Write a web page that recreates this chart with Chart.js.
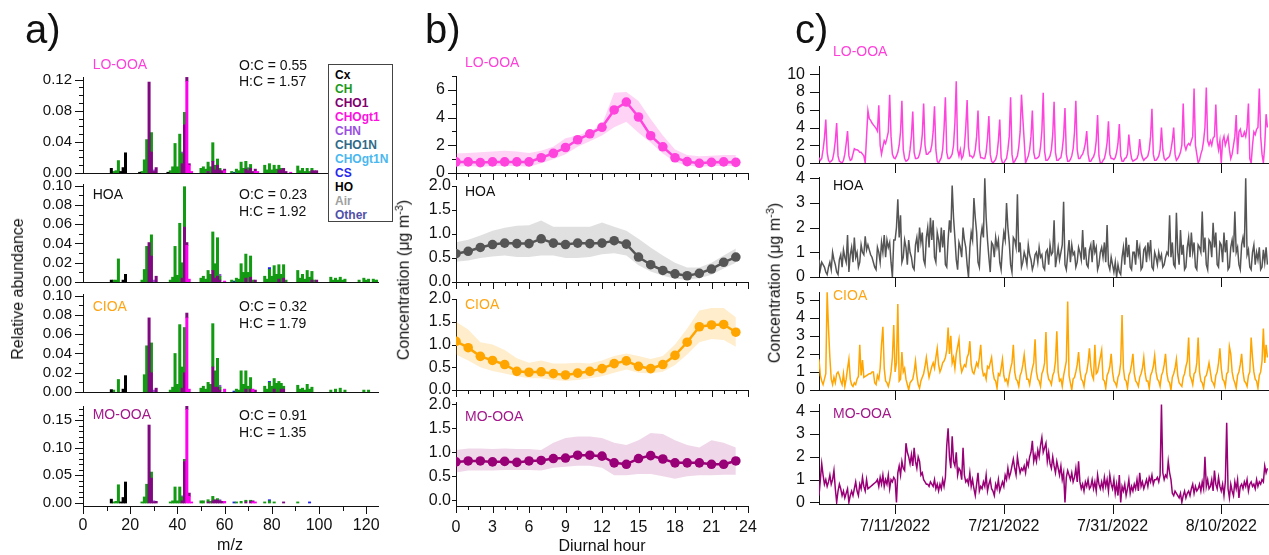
<!DOCTYPE html>
<html><head><meta charset="utf-8"><title>PMF factors</title>
<script src="https://cdn.jsdelivr.net/npm/chart.js@4.4.1/dist/chart.umd.min.js"></script>
<style>
html,body{margin:0;padding:0;background:#fff;}
#wrap{position:relative;width:1269px;height:555px;overflow:hidden;font-family:"Liberation Sans",Arial,Helvetica,sans-serif;color:#111;}
#wrap canvas{position:absolute;}
.t{position:absolute;white-space:nowrap;line-height:1;z-index:5;}
.rot{position:absolute;white-space:nowrap;line-height:1;transform:translate(-50%,-50%) rotate(-90deg);z-index:6;font-size:16px;}
.rot sup{font-size:11px;}
#legend{position:absolute;left:328px;top:64px;width:63px;height:156px;border:1px solid #444;background:#fff;z-index:4;}
#legend div{position:absolute;left:6px;font-weight:bold;font-size:12px;line-height:1;white-space:nowrap;}
</style></head>
<body><div id="wrap"><div id="legend"></div></div>
<script>
// ================= DATA =================
const profiles   = ['LO-OOA','HOA','CIOA','MO-OOA'];
const labelColors = ['#FF3FDA','#111111','#FFA514','#A3178B'];
const lineColors = ['#FF44DD','#555555','#FFA500','#990077'];
const bandColors = ['rgba(255,80,220,0.25)','rgba(0,0,0,0.12)','rgba(255,165,0,0.20)','rgba(153,0,119,0.16)'];
const ocValues = ['0.55','0.23','0.32','0.91'];
const hcValues = ['1.57','1.92','1.79','1.35'];

// legend of ion families
const familyNames  = ['Cx','CH','CHO1','CHOgt1','CHN','CHO1N','CHOgt1N','CS','HO','Air','Other'];
const familyColors = ['#000000','#1A9A1A','#800070','#FF10E0','#9A50E0','#2F6A88','#4AB8F0','#2828F0','#000000','#A0A0A0','#5050A8'];
// stacking order of bars (bottom -> top)
const barFamilies = ['Cx','HO','CHOgt1','CHO1','CH','CHN','CS'];
const barColors   = {Cx:'#000000',HO:'#000000',CHOgt1:'#FF00EE',CHO1:'#7F0A7F',CH:'#139A13',CHN:'#9955DD',CS:'#2222EE'};

// mass spectra [m/z, fraction]
const lo_Cx = [[12,.006],[24,.001],[36,.001]];
const lo_HO = [[16,.002],[17,.007],[18,.026]];
const lo_CHOgt1 = [[44,.118],[45,.010],[46,.002],[60,.003],[73,.002],[74,.002],[88,.001]];
const lo_CHO1 = [[28,.117],[29,.027],[30,.002],[31,.007],[42,.012],[43,.062],[44,.005],[45,.002],[53,.002],[55,.015],[56,.004],[57,.010],[58,.004],[59,.003],[60,.002],[69,.005],[70,.003],[71,.006],[72,.002],[73,.003],[83,.004],[84,.004],[85,.006],[86,.002],[97,.003],[98,.003],[99,.003],[111,.002],[112,.002],[113,.002]];
const lo_CH = [[13,.002],[14,.003],[15,.016],[25,.002],[26,.017],[27,.043],[29,.025],[37,.003],[38,.008],[39,.038],[40,.008],[41,.050],[42,.013],[43,.016],[50,.006],[51,.008],[52,.005],[53,.012],[54,.008],[55,.024],[56,.006],[57,.008],[58,.002],[63,.002],[65,.005],[66,.003],[67,.014],[68,.006],[69,.010],[70,.003],[71,.005],[77,.010],[78,.004],[79,.012],[80,.004],[81,.010],[82,.005],[83,.006],[84,.002],[91,.009],[92,.003],[93,.006],[94,.002],[95,.006],[96,.002],[97,.003],[105,.004],[107,.003],[109,.003],[119,.002],[121,.002]];
const lo_CHN = [[30,.002],[42,.002],[70,.001]];
const lo_CS = [[64,.001]];

const hoa_Cx = [[12,.002]];
const hoa_HO = [[17,.002],[18,.008]];
const hoa_CHOgt1 = [[44,.038],[45,.003],[60,.001]];
const hoa_CHO1 = [[28,.041],[29,.027],[31,.006],[42,.004],[43,.057],[44,.003],[55,.012],[56,.004],[57,.006],[58,.002],[69,.004],[71,.005],[73,.002],[83,.003],[85,.004],[97,.002],[99,.002]];
const hoa_CH = [[13,.002],[14,.002],[15,.024],[25,.002],[26,.013],[27,.037],[29,.022],[37,.002],[38,.005],[39,.037],[40,.007],[41,.061],[42,.016],[43,.042],[50,.004],[51,.006],[52,.003],[53,.012],[54,.008],[55,.040],[56,.015],[57,.040],[58,.004],[63,.002],[65,.004],[66,.003],[67,.019],[68,.010],[69,.025],[70,.010],[71,.022],[72,.002],[77,.006],[78,.003],[79,.013],[80,.006],[81,.017],[82,.008],[83,.015],[84,.008],[85,.014],[86,.002],[91,.012],[92,.004],[93,.008],[94,.003],[95,.012],[96,.005],[97,.009],[98,.002],[105,.005],[106,.002],[107,.004],[108,.002],[109,.005],[110,.002],[111,.003],[117,.002],[119,.004],[120,.002],[121,.003],[123,.003],[124,.002],[125,.002]];
const hoa_CHN = [[30,.002],[58,.002]];
const hoa_CS = [[64,.001],[79,.002]];

const cioa_Cx = [[12,.0025]];
const cioa_HO = [[17,.003],[18,.017]];
const cioa_CHOgt1 = [[44,.077],[45,.003],[60,.003],[72,.003]];
const cioa_CHO1 = [[28,.077],[29,.020],[31,.004],[42,.004],[43,.020],[44,.005],[55,.026],[56,.005],[57,.005],[58,.002],[69,.003],[71,.003],[73,.002],[81,.003],[84,.003],[85,.003]];
const cioa_CH = [[13,.002],[15,.013],[26,.018],[27,.048],[29,.031],[37,.002],[38,.005],[39,.040],[40,.008],[41,.070],[42,.022],[43,.047],[50,.004],[51,.006],[52,.003],[53,.010],[54,.008],[55,.045],[56,.017],[57,.030],[58,.003],[65,.003],[66,.002],[67,.022],[68,.008],[69,.019],[70,.006],[71,.012],[77,.006],[78,.003],[79,.010],[80,.006],[81,.011],[82,.009],[83,.011],[84,.006],[85,.003],[91,.007],[92,.003],[93,.004],[94,.002],[95,.008],[96,.003],[97,.005],[105,.002],[107,.003],[109,.004],[111,.002],[119,.002],[121,.002]];
const cioa_CHN = [[30,.002],[58,.002]];
const cioa_CS = [[64,.001],[79,.001]];

const mo_Cx = [[12,.007]];
const mo_HO = [[16,.002],[17,.010],[18,.038]];
const mo_CHOgt1 = [[44,.169],[45,.012],[46,.002],[60,.003],[72,.002],[73,.002]];
const mo_CHO1 = [[28,.141],[29,.045],[30,.002],[31,.003],[42,.004],[43,.075],[44,.006],[45,.006],[53,.002],[55,.004],[56,.006],[57,.005],[58,.004],[59,.003],[69,.002],[71,.003],[72,.002],[85,.002]];
const mo_CH = [[13,.002],[14,.003],[15,.033],[25,.002],[26,.011],[27,.034],[29,.011],[37,.002],[38,.004],[39,.029],[40,.004],[41,.029],[42,.007],[43,.004],[50,.004],[51,.004],[53,.004],[54,.003],[55,.008],[57,.003],[65,.002],[67,.003],[69,.003],[71,.002],[77,.002],[79,.004],[81,.002],[91,.002]];
const mo_CHN = [[30,.002],[42,.002],[58,.002]];
const mo_CS = [[64,.002],[79,.002],[96,.002]];

const spectra = [
  {Cx:lo_Cx,HO:lo_HO,CHOgt1:lo_CHOgt1,CHO1:lo_CHO1,CH:lo_CH,CHN:lo_CHN,CS:lo_CS},
  {Cx:hoa_Cx,HO:hoa_HO,CHOgt1:hoa_CHOgt1,CHO1:hoa_CHO1,CH:hoa_CH,CHN:hoa_CHN,CS:hoa_CS},
  {Cx:cioa_Cx,HO:cioa_HO,CHOgt1:cioa_CHOgt1,CHO1:cioa_CHO1,CH:cioa_CH,CHN:cioa_CHN,CS:cioa_CS},
  {Cx:mo_Cx,HO:mo_HO,CHOgt1:mo_CHOgt1,CHO1:mo_CHO1,CH:mo_CH,CHN:mo_CHN,CS:mo_CS}
];
const mzTickLabels = [0,20,40,60,80,100,120];
const specYTicks = [[0,0.04,0.08,0.12],[0,0.02,0.04,0.06,0.08,0.10],[0,0.02,0.04,0.06,0.08,0.10],[0,0.05,0.10,0.15]];

// diurnal cycles (hour 0..23): mean, upper and lower band
const hours = [0,1,2,3,4,5,6,7,8,9,10,11,12,13,14,15,16,17,18,19,20,21,22,23];
const loMean = [0.80,0.80,0.75,0.80,0.80,0.80,0.80,1.10,1.42,1.84,2.40,2.83,3.30,4.55,5.12,4.04,2.69,1.89,1.10,0.82,0.70,0.77,0.80,0.77];
const loUp   = [1.40,1.45,1.50,1.55,1.60,1.55,1.45,1.60,1.90,2.50,2.70,3.00,3.50,5.80,5.85,5.20,3.90,2.70,1.70,1.30,1.20,1.25,1.30,1.30];
const loLow  = [0.45,0.50,0.45,0.50,0.50,0.50,0.45,0.70,1.00,1.35,1.90,2.30,2.70,3.30,3.70,2.90,2.20,1.40,0.80,0.55,0.45,0.50,0.50,0.50];
const hoaMean = [0.59,0.64,0.72,0.78,0.81,0.80,0.80,0.90,0.81,0.78,0.81,0.80,0.81,0.86,0.79,0.52,0.36,0.24,0.17,0.13,0.18,0.27,0.41,0.52];
const hoaUp   = [0.83,0.88,0.97,1.07,1.13,1.17,1.18,1.28,1.15,1.15,1.15,1.15,1.24,1.15,1.07,0.90,0.72,0.55,0.40,0.30,0.30,0.40,0.55,0.70];
const hoaLow  = [0.42,0.45,0.50,0.53,0.55,0.52,0.52,0.55,0.55,0.50,0.50,0.52,0.58,0.60,0.55,0.35,0.22,0.13,0.07,0.05,0.08,0.15,0.28,0.40];
const cioaMean = [1.07,0.93,0.74,0.65,0.56,0.41,0.39,0.40,0.36,0.33,0.37,0.41,0.47,0.58,0.64,0.52,0.47,0.56,0.76,1.05,1.39,1.43,1.44,1.27];
const cioaUp   = [1.50,1.33,1.05,1.00,0.88,0.70,0.60,0.65,0.58,0.58,0.60,0.58,0.65,0.75,0.80,0.75,0.68,0.75,1.00,1.35,1.75,1.80,1.80,1.60];
const cioaLow  = [0.78,0.65,0.50,0.42,0.36,0.30,0.26,0.26,0.22,0.20,0.22,0.26,0.30,0.38,0.45,0.38,0.36,0.40,0.55,0.78,1.05,1.12,1.10,0.95];
const moMean = [0.80,0.82,0.82,0.80,0.81,0.79,0.82,0.83,0.87,0.88,0.94,0.94,0.92,0.78,0.75,0.87,0.93,0.86,0.78,0.78,0.78,0.75,0.75,0.82];
const moUp   = [1.05,1.08,1.08,1.07,1.08,1.07,1.07,1.05,1.20,1.30,1.33,1.33,1.30,1.20,1.15,1.25,1.40,1.38,1.25,1.15,1.10,1.25,1.20,1.10];
const moLow  = [0.58,0.62,0.62,0.62,0.63,0.63,0.63,0.62,0.68,0.70,0.72,0.72,0.68,0.52,0.52,0.55,0.55,0.50,0.45,0.50,0.52,0.52,0.53,0.53];
const diurnal = [[loMean,loUp,loLow],[hoaMean,hoaUp,hoaLow],[cioaMean,cioaUp,cioaLow],[moMean,moUp,moLow]];
const hourTickLabels = [0,3,6,9,12,15,18,21,24];
const diurnalYTicks = [[0,2,4,6],[0,0.5,1.0,1.5,2.0],[0,0.5,1.0,1.5,2.0],[0,0.5,1.0,1.5,2.0]];

// time series, 3-hourly samples starting 4 July 2022 00:00 (day 3 = days since 1 July)
const tsStartDay = 3;
const tsStepDay = 0.125;
const loTS = [
0.6,0.3,0.5,1.5,2.8,4.9,1.2,0.3, 0.1,0.2,0.4,1.2,2.5,4.5,0.8,0.2, 0.1,0.0,0.3,1.0,2.2,3.6,0.8,0.3, 0.4,1.0,1.6,1.5,1.5,1.4,1.2,1.2,
1.0,0.8,0.0,3.0,5.9,5.0,4.8,4.5, 4.3,4.1,3.9,3.6,6.5,2.0,1.0,1.8, 2.5,2.2,2.8,3.5,7.7,3.0,1.0,0.6, 0.5,0.8,1.2,2.0,3.5,7.0,1.5,0.5,
0.2,0.3,0.5,1.5,3.0,5.8,1.2,0.5, 0.5,0.6,1.0,1.8,3.2,6.7,2.0,1.0, 1.0,1.2,1.3,2.0,3.5,6.4,1.5,0.2, 0.0,0.3,0.6,1.5,3.8,7.4,1.2,0.5,
0.5,0.7,1.0,2.0,4.5,9.2,1.5,0.8, 1.5,0.5,0.8,1.8,4.0,7.1,1.8,0.8, 0.8,0.6,0.8,1.5,3.0,5.9,1.5,0.6, 0.6,0.5,0.5,1.2,2.8,5.3,1.0,0.2,
0.0,0.2,0.4,1.0,2.5,4.9,0.6,0.0, 0.0,0.3,0.5,1.5,3.0,7.4,1.0,0.0, 0.2,0.5,0.8,1.8,3.5,7.7,5.0,2.5, 0.0,0.4,0.8,1.5,3.0,5.9,1.2,0.5,
0.5,0.6,0.8,1.8,3.6,7.9,1.3,0.3, 0.3,0.5,0.8,1.5,3.2,6.9,1.2,0.3, 0.3,0.5,0.6,1.5,3.0,6.2,1.0,0.2, 0.2,0.4,0.8,1.6,3.4,7.0,1.5,0.5,
0.5,0.8,1.0,1.5,2.2,3.6,1.0,0.2, 0.2,0.5,0.7,1.2,2.5,5.4,0.8,0.0, 0.0,0.3,0.5,1.2,2.3,4.7,1.0,0.5, 0.5,0.4,0.6,1.2,2.2,4.4,0.8,0.2,
0.2,0.5,0.6,1.0,3.2,1.5,0.5,0.2, 0.3,0.4,0.5,1.0,2.7,1.2,0.6,0.3, 0.5,0.6,0.8,1.5,3.0,6.1,1.0,0.3, 0.3,0.5,0.8,1.5,4.0,1.5,0.5,0.3,
0.5,0.6,0.8,1.5,2.5,4.0,1.0,0.3, 0.5,0.8,1.2,2.0,6.7,2.0,1.5,2.0, 2.2,2.0,2.5,3.0,8.4,2.0,1.0,0.0, 0.3,1.0,1.5,2.5,4.0,8.5,2.5,2.0,
2.5,2.0,2.8,3.0,6.6,2.5,1.5,2.5, 0.0,2.5,3.0,2.0,2.5,3.0,1.5,0.5, 1.0,2.0,3.0,5.4,1.0,3.5,3.8,3.0, 3.0,3.5,3.0,4.0,6.7,0.5,0.0,2.0,
3.5,3.2,3.8,4.0,8.4,3.0,1.0,0.0, 2.0,5.5,4.0];
const hoaTS = [
0.7,0.3,0.6,0.5,0.4,0.2,0.1,0.4, 0.6,0.3,1.0,0.7,0.5,0.2,0.1,0.7, 0.9,0.4,1.1,0.8,0.6,1.7,0.2,0.9, 1.2,0.6,1.6,0.8,1.0,0.4,0.6,1.3,
1.0,0.9,1.65,1.1,1.3,1.1,0.9,0.8, 0.6,0.4,0.3,1.2,1.0,0.6,1.4,1.0, 1.7,0.8,1.5,1.2,1.4,0.6,0.0,1.5, 1.5,2.0,3.15,1.6,2.5,0.6,0.8,1.5,
1.2,0.5,1.5,1.0,0.8,0.4,0.3,1.3, 1.6,1.0,2.0,1.4,1.8,0.7,0.5,1.6, 2.0,1.2,2.4,1.5,2.3,0.8,0.6,1.8, 1.5,1.0,2.0,1.2,1.9,0.5,0.4,1.5,
2.3,1.8,3.7,2.4,1.6,0.7,0.3,1.4, 1.2,0.8,2.0,1.5,1.2,0.5,0.0,1.2, 1.8,1.5,3.2,2.4,1.8,0.6,0.4,1.6, 2.0,1.6,4.0,2.4,1.5,0.8,0.2,1.4,
1.3,0.8,1.6,1.2,1.5,0.6,0.3,1.2, 1.8,1.5,3.0,2.0,1.4,0.5,0.2,1.6, 1.5,1.2,3.35,1.0,1.4,0.4,0.6,1.0, 0.8,0.5,1.3,0.9,0.7,0.3,0.5,0.9,
1.0,0.6,1.2,0.8,0.9,0.4,0.3,1.0, 1.1,0.5,1.3,0.9,1.0,2.3,0.4,0.8, 1.2,0.7,1.0,1.3,3.05,0.5,0.3,0.9, 1.5,0.6,1.3,0.9,1.0,0.4,0.6,1.2,
1.0,0.7,1.9,0.7,1.2,0.5,0.4,1.1, 1.3,0.6,1.5,1.0,1.2,0.3,0.5,1.0, 1.2,0.8,1.4,0.6,2.1,0.5,0.3,0.8, 0.5,0.2,0.6,0.0,0.5,0.2,0.1,0.8,
1.2,0.5,1.6,0.8,1.3,0.4,0.3,1.0, 1.0,0.5,1.5,0.9,1.2,0.3,0.4,1.1, 1.2,0.6,1.4,0.9,1.5,0.4,0.3,1.0, 0.8,0.5,1.0,0.7,0.9,0.4,0.5,0.8,
1.0,0.9,2.5,0.8,1.4,0.5,0.4,2.6, 1.0,0.5,1.9,0.9,1.3,0.3,0.4,1.2, 1.6,0.8,1.8,1.0,1.4,0.4,0.3,1.3, 1.2,1.0,2.65,1.0,1.6,0.5,0.3,1.5,
1.4,0.8,2.2,1.2,1.8,0.5,0.4,1.4, 1.3,0.6,1.8,1.0,1.5,0.3,0.4,1.2, 1.5,1.0,2.65,1.0,1.2,0.5,0.3,1.3, 1.6,1.2,4.0,0.9,1.1,0.4,0.3,1.0,
1.3,0.5,1.0,0.7,1.2,0.3,0.4,1.1, 0.6,1.2,0.5];
const cioaTS = [
1.7,0.8,0.5,0.3,0.6,0.9,5.4,3.4, 1.8,0.6,0.3,0.7,0.4,0.9,1.0,0.8, 0.5,0.3,0.9,0.2,0.6,1.2,1.7,0.6, 0.3,0.2,0.4,0.3,0.6,0.75,2.5,0.8,
1.65,0.7,0.75,0.8,0.85,0.9,0.9,1.0, 1.0,0.4,0.3,0.8,0.6,1.2,2.5,3.5, 1.2,0.5,0.4,0.2,0.5,1.0,1.8,3.6, 1.0,1.5,4.75,0.5,0.6,2.1,1.0,1.2,
0.6,0.3,0.0,0.4,0.5,0.6,1.0,1.6, 0.8,0.3,0.1,0.5,0.7,0.9,1.3,1.8, 1.2,0.7,1.0,1.3,1.5,1.2,1.8,2.3, 1.4,1.0,1.2,1.5,1.6,1.8,2.2,3.45,
2.0,3.0,1.5,1.8,1.2,2.0,2.4,2.8, 1.5,1.0,1.2,1.4,1.3,1.8,2.0,2.7, 1.4,1.0,0.9,1.2,1.5,1.3,1.8,2.5, 1.2,0.8,0.9,0.6,1.3,1.2,1.5,1.8,
1.0,0.6,0.5,0.1,0.9,0.8,1.2,1.7, 0.8,0.5,0.6,0.3,0.8,1.2,1.5,2.5, 1.0,0.6,0.5,0.2,0.8,1.0,1.4,1.95, 1.2,0.6,0.6,0.3,0.8,1.2,1.5,2.8,
1.0,0.6,0.5,0.2,0.9,1.1,1.5,3.2, 1.0,0.6,0.5,0.3,0.8,1.0,1.6,3.25, 1.0,0.5,0.6,0.2,0.8,1.2,1.6,4.9, 0.8,0.4,0.0,0.6,0.7,1.0,1.4,2.1,
1.1,0.6,0.5,0.2,0.8,1.0,1.5,2.3, 1.3,0.8,0.6,2.5,0.9,1.0,1.4,1.8, 2.2,0.6,0.5,0.1,0.8,1.0,1.3,2.0, 1.0,0.5,0.4,0.2,0.7,0.9,1.5,4.15,
1.2,0.6,0.5,0.1,0.8,1.0,1.4,2.0, 0.9,0.5,0.4,0.2,0.7,0.9,1.2,1.8, 0.9,0.5,0.5,0.1,0.8,1.0,1.3,1.9, 1.0,0.6,0.5,0.2,0.8,1.0,1.4,2.0,
0.9,0.5,0.4,0.0,0.7,0.9,1.2,1.7, 0.8,0.4,0.3,0.2,0.7,0.9,1.3,1.6, 2.9,0.8,0.6,0.3,0.9,1.0,1.5,2.9, 1.0,0.5,0.4,0.1,0.7,0.8,1.1,1.5,
1.0,0.5,0.4,0.2,0.8,1.0,1.5,2.3, 1.2,0.6,0.5,0.2,0.9,1.0,2.4,2.0, 1.0,0.6,0.4,0.1,0.8,1.0,1.4,2.0, 1.0,0.5,0.4,0.2,0.8,1.0,2.9,1.8,
1.0,0.6,0.5,0.1,0.8,1.0,1.6,3.4, 1.5,2.5,1.8];
const moTS = [
0.3,1.0,1.7,1.2,0.8,1.0,0.7,0.9, 1.2,0.8,1.0,1.4,0.6,0.0,0.5,0.8, 0.6,0.3,0.5,0.2,0.4,0.6,0.0,0.3, 0.5,0.3,0.6,0.9,0.5,0.3,0.8,0.6,
1.1,0.7,0.5,1.0,0.6,0.65,0.7,0.75, 0.8,0.85,0.9,1.0,0.7,1.1,0.8,1.2, 0.7,1.0,0.8,1.2,0.6,1.0,0.9,1.1, 1.0,0.0,1.3,1.6,1.2,1.8,1.5,1.4,
2.6,2.2,2.0,1.7,2.1,1.6,2.4,1.8, 1.5,2.0,1.8,1.2,1.3,1.0,0.9,0.8, 0.8,0.7,0.9,0.8,0.7,1.0,0.6,0.8, 0.5,0.8,0.6,1.0,0.7,1.1,2.5,3.25,
2.0,1.5,2.9,1.8,1.6,2.2,1.2,1.5, 1.4,1.0,2.4,1.2,0.9,1.0,0.8,1.3, 0.7,1.0,0.6,0.3,0.8,1.3,0.5,0.7, 0.6,0.9,0.7,1.2,0.5,0.8,1.0,0.6,
0.5,0.3,0.8,0.6,1.0,0.5,0.7,0.9, 0.7,1.2,1.0,1.5,1.1,1.3,1.6,1.9, 1.5,1.2,2.0,1.6,1.3,1.5,1.4,1.6, 1.3,1.8,1.6,2.0,2.2,2.7,1.8,2.1,
1.8,2.3,2.0,2.5,2.85,2.2,2.4,2.6, 1.8,2.2,1.7,1.5,2.0,1.6,1.3,1.8, 1.5,1.2,1.6,1.0,1.3,0.0,1.1,1.4, 1.2,1.0,1.3,0.9,1.1,1.5,0.9,1.8,
0.9,0.6,0.8,0.5,0.9,0.7,1.0,0.6, 0.7,1.0,0.6,0.9,0.5,1.2,0.8,0.6, 0.9,0.6,1.1,0.7,1.0,0.5,1.2,0.8, 0.6,1.0,0.4,0.8,0.3,1.2,0.0,0.7,
0.5,0.8,0.3,0.6,1.0,0.4,0.7,0.5, 0.8,0.6,1.0,0.5,1.3,0.7,0.9,0.6, 0.8,1.0,0.7,1.1,0.9,1.2,0.8,1.0, 1.0,1.1,0.9,1.2,4.3,1.3,1.0,1.2,
1.1,1.8,1.3,1.0,0.4,0.3,0.5,0.4, 0.3,0.2,0.4,0.0,0.3,0.5,0.2,0.4, 0.5,0.3,0.6,0.8,0.4,0.7,0.5,0.6, 0.8,0.5,0.9,0.6,2.0,0.7,1.0,0.6,
0.7,1.0,0.5,1.4,0.8,0.6,1.1,0.7, 0.5,0.8,0.3,0.9,3.5,0.6,0.2,0.8, 0.5,0.3,0.9,0.6,1.0,0.2,0.7,0.8, 0.6,0.9,0.7,1.0,0.5,0.8,0.9,0.7,
0.8,0.6,1.0,0.7,0.9,0.8,1.0,0.9, 1.6,1.3,1.5];
const timeSeries = [loTS,hoaTS,cioaTS,moTS];
const dateTickDays = [10,20,30,40];
const dateTickLabels = ['7/11/2022','7/21/2022','7/31/2022','8/10/2022'];
const tsYTicks = [[0,2,4,6,8,10],[0,1,2,3,4],[0,1,2,3,4,5],[0,1,2,3,4]];

// ================= LAYOUT =================
const wrap = document.getElementById('wrap');
Chart.defaults.font.family = '"Liberation Sans", Arial, Helvetica, sans-serif';
Chart.defaults.color = '#111';

const tickMarks = {
  id: 'tickMarks',
  afterDraw(chart, args, o) {
    const ctx = chart.ctx, ca = chart.chartArea, xs = chart.scales.x, ys = chart.scales.y;
    ctx.save(); ctx.strokeStyle = '#111'; ctx.lineWidth = 1; ctx.beginPath();
    for (const t of (o.y || [])) { const y = Math.round(ys.getPixelForValue(t[0])) + 0.5; ctx.moveTo(ca.left - t[1], y); ctx.lineTo(ca.left, y); }
    for (const t of (o.x || [])) { const x = Math.round(xs.getPixelForValue(t[0])) + 0.5; ctx.moveTo(x, ca.bottom); ctx.lineTo(x, ca.bottom + t[1]); }
    ctx.stroke(); ctx.restore();
  }
};

function axis(min, max, vals, fmt, show, size, pad) {
  return { type:'linear', min, max, offset:false,
    grid:{display:false, drawTicks:false}, border:{display:true, color:'#111', width:1},
    afterBuildTicks: s => { s.ticks = vals.map(v => ({value:v})); },
    ticks:{display:show, callback: v => fmt(v), font:{size}, color:'#111', padding:pad, autoSkip:false, maxRotation:0, minRotation:0} };
}

const PAD_T = 34, PAD_R = 44, XH_MIN = 34;
function mkChart(box, yW, xH, cfg, marks) {
  xH = Math.max(xH, XH_MIN);
  const L = Math.round(box.l), T = Math.round(box.t), R = Math.round(box.r), B = Math.round(box.b);
  const W = yW + (R - L) + PAD_R, H = PAD_T + (B - T) + xH;
  const c = document.createElement('canvas');
  c.width = W; c.height = H; c.style.width = W + 'px'; c.style.height = H + 'px';
  c.style.left = (L - yW) + 'px'; c.style.top = (T - PAD_T) + 'px';
  wrap.appendChild(c);
  const o = cfg.options;
  o.responsive = false; o.maintainAspectRatio = false; o.animation = false; o.devicePixelRatio = 1;
  o.layout = {padding:{left:0, right:PAD_R, top:PAD_T, bottom:0}};
  o.plugins = {legend:{display:false}, tooltip:{enabled:false}, tickMarks: marks};
  o.events = [];
  o.scales.y.afterFit = s => { s.width = yW; };
  o.scales.x.afterFit = s => { s.height = xH; };
  cfg.plugins = [tickMarks];
  const ch = new Chart(c, cfg);
  for (let it = 0; it < 3; it++) {
    const ca = ch.chartArea;
    const dw = (R - L) - (ca.right - ca.left), dh = (B - T) - (ca.bottom - ca.top);
    if (Math.abs(dw) < 0.5 && Math.abs(dh) < 0.5) break;
    c.width = ch.width + dw; c.height = ch.height + dh;
    ch.resize(ch.width + dw, ch.height + dh);
  }
  const ca = ch.chartArea;
  c.style.left = (L - ca.left) + 'px';
  c.style.top = (T - ca.top) + 'px';
  return ch;
}

function addText(html, x, cy, size, color, extra) {
  const d = document.createElement('div');
  d.className = 't'; d.innerHTML = html;
  d.style.left = x + 'px'; d.style.top = (cy - size * 0.5) + 'px';
  d.style.fontSize = size + 'px'; d.style.color = color || '#111';
  if (extra) Object.assign(d.style, extra);
  wrap.appendChild(d); return d;
}
function addRot(html, cx, cy) {
  const d = document.createElement('div'); d.className = 'rot'; d.innerHTML = html;
  d.style.left = cx + 'px'; d.style.top = cy + 'px'; wrap.appendChild(d);
}
function range(a, b, step, skip) { const r = []; for (let i = 0; a + i * step <= b + 1e-9; i++) { const v = +(a + i * step).toFixed(4); if (!skip || !skip.some(s => Math.abs(s - v) < 1e-6)) r.push(v); } return r; }

// ---------- panel a: mass spectra ----------
const aRows = [{t:77,b:173},{t:184,b:282},{t:294,b:392},{t:406,b:506}];
const aY = [[0,0.1235],[0,0.1018],[0,0.1018],[-0.0054,0.1754]];
const aMinorTop = [0.12,0.10,0.10,0.17];
spectra.forEach((sp, k) => {
  const last = k === 3;
  const datasets = barFamilies.map(f => ({
    data: (sp[f] || []).map(p => ({x:p[0], y:p[1]})),
    backgroundColor: barColors[f], borderWidth:0, barPercentage:1, categoryPercentage:1
  }));
  const yMarks = specYTicks[k].map(v => [v, 8]).concat(range(0, aMinorTop[k], 0.01, specYTicks[k]).map(v => [v, 4]));
  const xMarks = last ? mzTickLabels.map(v => [v, 8]).concat([10,30,50,70,90,110].map(v => [v, 5])) : [];
  const x = axis(0, 125, mzTickLabels, v => String(v), last, 16, 10); x.stacked = true;
  const y = axis(aY[k][0], aY[k][1], specYTicks[k], v => v.toFixed(2), true, 15, 11); y.stacked = true;
  mkChart({l:83, r:378, t:aRows[k].t, b:aRows[k].b}, 60, last ? 40 : 14,
    {type:'bar', data:{datasets}, options:{scales:{x, y}}}, {x:xMarks, y:yMarks});
});

// ---------- panel b: diurnal ----------
const bRows = [{t:76,b:173},{t:186,b:282},{t:299,b:390},{t:402,b:506}];
const bY = [[0,7],[0,2],[0,2],[-0.119,2.048]];
diurnal.forEach((d, k) => {
  const last = k === 3;
  const col = lineColors[k];
  const datasets = [
    {data: d[0].map((v,i) => ({x:hours[i], y:v})), borderColor:col, backgroundColor:col, borderWidth:2.5,
     pointRadius:4.8, pointBorderWidth:0, pointBackgroundColor:col, fill:false, tension:0},
    {data: d[1].map((v,i) => ({x:hours[i], y:v})), borderWidth:0, pointRadius:0, fill:'+1', backgroundColor:bandColors[k], borderColor:'rgba(0,0,0,0)'},
    {data: d[2].map((v,i) => ({x:hours[i], y:v})), borderWidth:0, pointRadius:0, fill:false, borderColor:'rgba(0,0,0,0)'}
  ];
  const yMarks = k === 0 ? diurnalYTicks[0].map(v => [v, 8]).concat([1,3,5,7].map(v => [v, 4])) : diurnalYTicks[k].map(v => [v, 4]);
  const xMarks = range(0, 24, 1).map(v => [v, v % 3 === 0 ? 7 : 4]);
  const x = axis(0, 24, hourTickLabels, v => String(v), last, 16, 12);
  const y = axis(bY[k][0], bY[k][1], diurnalYTicks[k], k === 0 ? (v => String(v)) : (v => v.toFixed(1)), true, 16, k === 0 ? 11 : 5);
  mkChart({l:456, r:748, t:bRows[k].t, b:bRows[k].b}, 45, last ? 40 : 14,
    {type:'line', data:{datasets}, options:{scales:{x, y}}}, {x:xMarks, y:yMarks});
});

// ---------- panel c: time series ----------
const cRows = [{t:66,b:163},{t:177,b:277},{t:292,b:390},{t:404,b:504}];
const cY = [[0,10.93],[0,4.05],[0,5.42],[-0.07,4.32]];
timeSeries.forEach((ts, k) => {
  const last = k === 3;
  const datasets = [{data: ts.map((v,i) => ({x: tsStartDay + i * tsStepDay, y: v})), borderColor: lineColors[k],
    borderWidth:1.5, pointRadius:0, fill:false, tension:0}];
  const x = axis(3.0, 44.3, dateTickDays, v => dateTickLabels[dateTickDays.indexOf(v)], last, 16, 13);
  const y = axis(cY[k][0], cY[k][1], tsYTicks[k], v => String(v), true, 16, 14);
  mkChart({l:819, r:1268, t:cRows[k].t, b:cRows[k].b}, 45, last ? 40 : 14,
    {type:'line', data:{datasets}, options:{scales:{x, y}}},
    {x: dateTickDays.map(v => [v, 10]), y: tsYTicks[k].map(v => [v, 9])});
});

// ---------- texts ----------
addText('a)', 25, 29, 40);
addText('b)', 425, 29, 40);
addText('c)', 795, 29, 40);

const aLab = [64,194,306,414], aOC = [65,194,306,415], aHC = [80.7,210.7,322.7,432.3];
const bLab = [61.7,190.7,304,416], cLab = [51,185,295,413];
profiles.forEach((p, k) => {
  addText(p, 92.7, aLab[k], 14, labelColors[k]);
  addText('O:C = ' + ocValues[k], 239, aOC[k], 14);
  addText('H:C = ' + hcValues[k], 239, aHC[k], 14);
  addText(p, 465, bLab[k], 14, labelColors[k]);
  addText(p, 833, cLab[k], 14, labelColors[k]);
});
addRot('Relative abundance', 18, 289);
addText('m/z', 230, 545, 16, '#111', {transform:'translateX(-50%)'});
addText('Diurnal hour', 602, 546, 16, '#111', {transform:'translateX(-50%)'});
addRot('Concentration (μg m<sup>-3</sup>)', 403, 280);
addRot('Concentration (μg m<sup>-3</sup>)', 774, 283);

// legend
const leg = document.getElementById('legend');
familyNames.forEach((n, i) => {
  const d = document.createElement('div');
  d.textContent = n; d.style.color = familyColors[i];
  d.style.top = (74.3 + 14 * i - 64 - 6.5) + 'px';
  leg.appendChild(d);
});
</script>
</body></html>
